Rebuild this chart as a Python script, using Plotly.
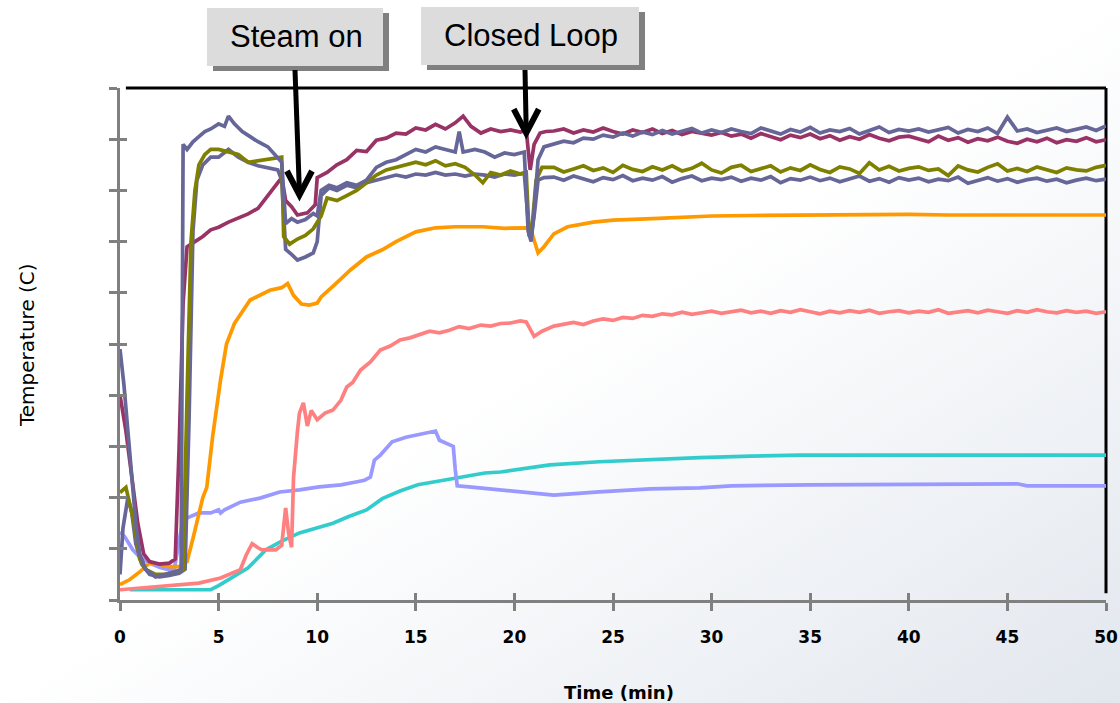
import base64
import plotly.graph_objects as go

# ---------------- data ----------------
TAIL_T = [22.0 + 0.5 * i for i in range(57)]  # 22.0 .. 50.0

maroon_t = [0, 0.3, 0.6, 0.9, 1.2, 1.5, 2.0, 2.5, 2.8, 3.0, 3.2, 3.4, 3.8, 4.2, 4.6, 5.0, 5.5, 6.0,
            6.5, 7.0, 7.5, 7.9, 8.2, 8.4, 8.7, 9.0, 9.5, 9.9, 10.0, 10.5, 11.0, 11.5, 12.0, 12.5, 13.0,
            13.5, 14.0, 14.5, 15.0, 15.5, 16.0, 16.5, 17.0, 17.4, 17.8, 18.3, 18.8, 19.3, 19.8, 20.3,
            20.6, 20.8, 21.0, 21.3, 21.6]
maroon_v = [40, 33, 24, 15, 9, 7.5, 7, 7.2, 8, 30, 58, 69, 70, 71, 72.3, 72.8, 73.8, 74.6,
            75.4, 76.5, 79, 80.8, 82.5, 78, 76.8, 75.2, 75.6, 77.2, 82.5, 83.5, 85, 86.0, 87.8, 87.6, 89.8,
            90.2, 91.2, 91.0, 92.2, 91.8, 92.9, 92.0, 93.2, 94.5, 92.5, 91.2, 92, 91.5, 91.8, 91.4,
            91.8, 84, 89, 91.2, 91.5]
maroon_tail = [91.6, 92.0, 91.2, 91.8, 91.4, 92.2, 91.5, 91.0, 91.8, 91.3, 92.0, 91.1, 91.7, 90.9, 91.5, 91.2, 90.8,
               91.3, 90.6, 91.0, 90.2, 91.1, 90.5, 89.9, 90.8, 90.3, 91.0, 90.1, 90.7, 89.8, 90.5, 90.0, 90.9, 90.2, 89.7, 90.4, 90.6,
               90.0, 89.5, 90.6, 89.8, 90.3, 89.4, 90.1, 89.7, 90.4, 89.6, 89.2, 90.0, 89.5, 90.2, 89.3, 89.9, 89.6, 90.3, 89.5, 89.9]

slate_hi_t = [0, 0.2, 0.4, 0.6, 0.8, 1.0, 1.3, 1.8, 2.3, 2.8, 3.1, 3.15, 3.2, 3.4, 3.7, 4.0, 4.3, 4.6,
              5.0, 5.3, 5.5, 5.8, 6.2, 6.6, 7.0, 7.5, 8.0, 8.2, 8.4, 8.7, 9.0, 9.4, 9.8, 10.0, 10.2, 10.6,
              11.0, 11.5, 12.0, 12.5, 13.0, 13.5, 14.0, 14.5, 15.0, 15.5, 16.0, 16.5, 17.0, 17.2, 17.4, 18.0,
              18.5, 19.0, 19.5, 20.0, 20.5, 20.7, 20.85, 21.0, 21.2, 21.5]
slate_hi_v = [49, 42, 33, 24, 15, 9, 6, 4.5, 5, 5.5, 6, 60, 89, 88, 89.5, 90.5, 91.5, 92,
              93, 92.5, 94.5, 93, 91.5, 90.5, 89.5, 88.5, 86.5, 85.5, 73.5, 74.5, 73.8, 74.3, 75.5, 75, 80, 81,
              80.5, 81.5, 81, 82, 84.5, 85.5, 86, 87, 88, 87.5, 88.5, 88, 87.5, 91.5, 87.5, 88,
              87.5, 86.5, 87.3, 87, 87.5, 72, 70, 76, 86, 88.5]
slate_hi_tail = [89.0, 89.6, 89.3, 90.2, 90.0, 90.8, 90.4, 91.2, 90.6, 91.4, 90.9, 91.7, 91.0, 91.5, 92.1, 91.2, 91.8,
                 91.3, 92.0, 91.5, 91.1, 92.2, 91.6, 91.0, 91.9, 91.4, 92.3, 91.2, 91.8, 91.5, 92.1, 91.0, 91.7, 92.4, 91.3, 91.9, 91.6,
                 92.0, 91.4, 91.8, 92.3, 91.2, 91.9, 91.5, 92.2, 91.1, 94.3, 91.6, 92.0, 91.3, 91.8, 92.2, 91.5, 91.9, 92.4, 91.7, 92.6]

slate_lo_t = [0, 0.15, 0.4, 0.6, 0.8, 1.1, 1.5, 2.0, 2.5, 3.0, 3.3, 3.5, 3.7, 3.9, 4.2, 4.6, 5.0, 5.5,
              6.0, 6.5, 7.0, 7.5, 8.0, 8.2, 8.4, 8.7, 9.0, 9.4, 9.8, 10.0, 10.2, 10.6, 11.0, 11.5, 12.0, 12.5,
              13.0, 13.5, 14.0, 14.5, 15.0, 15.5, 16.0, 16.5, 17.0, 17.5, 18.0, 18.5, 19.0, 19.5, 20.0, 20.5,
              20.7, 20.85, 21.0, 21.2, 21.5]
slate_lo_v = [5, 14, 20, 17, 11, 7, 5, 4.5, 4.8, 5.2, 6, 35, 72, 82, 85, 86.5, 86.5, 88,
              86.5, 85.5, 84.8, 84.4, 84, 82, 68.5, 67.5, 66.4, 67, 67.8, 70, 79, 80.5, 80, 81, 80.5, 81.5,
              82, 82.5, 83, 82.6, 83.2, 83, 83.5, 83, 83.2, 82.8, 83.2, 83, 82.6, 83.2, 83, 83.4,
              74, 71, 75, 82, 82.5]
slate_lo_tail = [82.6, 82.0, 82.8, 82.3, 81.7, 82.5, 82.1, 82.9, 81.9, 82.4, 82.0, 82.7, 81.6, 82.3, 82.8, 81.9, 82.4,
                 82.1, 82.6, 81.8, 82.4, 82.0, 82.7, 81.5, 82.3, 82.0, 82.6, 81.9, 82.4, 81.7, 82.2, 82.8, 81.8, 82.3, 81.6, 82.5, 82.0,
                 82.4, 81.7, 82.2, 81.9, 82.6, 81.4, 82.0, 82.5, 81.8, 82.3, 81.6, 82.1, 82.4, 81.8, 82.2, 81.5, 82.0, 82.4, 81.9, 82.2]

olive_t = [0, 0.3, 0.6, 0.8, 1.0, 1.3, 1.8, 2.3, 2.8, 3.2, 3.4, 3.6, 3.8, 4.0, 4.3, 4.6, 5.0, 5.5,
           6.0, 6.5, 7.0, 7.5, 8.0, 8.2, 8.3, 8.6, 9.0, 9.4, 9.8, 10.2, 10.5, 11.0, 11.5, 12.0, 12.5, 13.0,
           13.5, 14.0, 14.5, 15.0, 15.5, 16.0, 16.5, 17.0, 17.5, 18.0, 18.4, 18.8, 19.3, 19.8, 20.3, 20.6,
           20.75, 20.9, 21.1, 21.4]
olive_v = [21, 22, 17, 13, 8, 6, 5, 5, 5.5, 6, 40, 70, 80, 85, 87, 88, 88, 87.5,
           87, 85.5, 85.8, 86.2, 86.5, 86.5, 71, 69.5, 70.5, 71.2, 72.5, 75, 78.5, 78, 79, 80, 81.5, 83,
           84, 84.5, 85, 85.5, 85, 85.8, 84.8, 85.2, 84.5, 83, 81.5, 83.5, 83, 83.8, 83.2, 83.5,
           71, 73, 82, 84.5]
olive_tail = [84.5, 83.6, 84.2, 84.8, 83.9, 84.4, 83.5, 84.9, 84.1, 83.7, 84.6, 84.0, 84.8, 83.8, 84.3, 85.3, 84.0,
              83.4, 84.5, 84.9, 83.7, 84.2, 84.8, 83.6, 84.4, 83.9, 85.0, 84.1, 83.5, 84.6, 84.2, 83.3, 85.4, 84.0, 84.7, 83.8, 84.3,
              84.6, 83.9, 84.2, 82.9, 84.8, 84.0, 83.6, 84.5, 85.2, 83.8, 84.3, 83.7, 84.6, 84.1, 83.5, 84.4, 84.0, 83.8, 84.5, 84.9]

orange_t = [0, 0.5, 1.0, 1.5, 2.0, 2.5, 3.0, 3.4, 3.7, 3.9, 4.2, 4.4, 4.7, 5.1, 5.4, 5.8, 6.6, 7.6,
            8.2, 8.5, 8.8, 9.2, 9.6, 10.0, 10.2, 11.0, 11.7, 12.5, 13.3, 14.0, 15.0, 16.0, 17.0, 18.4,
            19.5, 20.6, 20.9, 21.2, 21.5, 22.0, 22.7, 24.0, 25.0, 27.0, 30.0, 32.0, 35.0, 37.0, 40.0,
            42.0, 45.0, 47.0, 50.0]
orange_v = [3, 4, 5.5, 7.2, 7, 6.5, 6.5, 7.5, 12, 15.5, 20, 22, 32, 43, 50, 54, 58.6, 60.5,
            61, 61.8, 59.5, 57.8, 57.6, 58, 59.2, 62, 64.5, 67, 68.4, 70, 71.9, 72.7, 72.9, 72.9,
            72.6, 72.7, 71.5, 67.8, 69, 71.5, 72.9, 73.8, 74.2, 74.5, 75, 75.1, 75.2, 75.1, 75.3,
            75.2, 75.3, 75.2, 75.2]

salmon_t = [0, 1.0, 2.4, 4.0, 5.1, 6.1, 6.4, 6.7, 7.0, 7.2, 7.9, 8.2, 8.4, 8.55, 8.7, 8.8, 9.0, 9.1,
            9.3, 9.5, 9.7, 10.0, 10.4, 10.8, 11.2, 11.5, 11.8, 12.2, 12.7, 13.2, 13.7, 14.2, 14.7, 15.2,
            15.7, 16.2, 16.7, 17.2, 17.7, 18.3, 18.8, 19.3, 19.8, 20.3, 20.6, 21.0, 21.4]
salmon_v = [2, 2.3, 2.7, 3.3, 4.3, 5.9, 8.8, 11, 10.2, 9.8, 9.8, 10.7, 18, 13, 10.3, 24, 33, 36.5,
            38.5, 34, 37, 35.2, 36.5, 37.1, 39, 41.6, 42.5, 44.9, 46.5, 48.8, 49.6, 50.8, 51.2, 51.8,
            52.5, 52.2, 52.7, 53.4, 53.0, 53.7, 53.5, 54.0, 54.1, 54.5, 54.3, 51.5, 52.5]
salmon_tail = [53.5, 53.9, 54.2, 53.8, 54.5, 54.9, 54.6, 55.2, 55.0, 55.6, 55.4, 55.9, 55.7, 56.2, 55.8, 56.1, 56.4,
               56.0, 56.3, 56.6, 56.1, 56.4, 56.0, 56.5, 56.2, 56.7, 56.3, 55.9, 56.4, 56.1, 56.5, 56.2, 56.6, 56.0, 56.3, 56.5, 56.1,
               56.4, 56.2, 56.7, 56.0, 56.3, 56.5, 56.1, 56.6, 56.3, 56.0, 56.5, 56.2, 56.7, 56.3, 56.1, 56.5, 56.2, 56.4, 56.0, 56.3]

turq_t = [0.5, 4.6, 5.0, 5.7, 6.5, 7.4, 8.2, 9.1, 10.0, 10.8, 11.6, 12.5, 13.3, 14.2, 15.1, 15.9,
          16.8, 17.6, 18.5, 19.3, 20.3, 21.8, 24.3, 26.5, 29.4, 32.0, 34.5, 40.0, 50.0]
turq_v = [2.0, 2.0, 2.8, 4.5, 6.3, 9.8, 11.5, 13.1, 14.2, 15.0, 16.3, 17.6, 19.8, 21.3, 22.5, 23.0,
          23.6, 24.2, 24.8, 25.0, 25.6, 26.4, 27.0, 27.4, 27.8, 28.1, 28.3, 28.3, 28.3]

peri_t = [0, 0.25, 0.65, 1.0, 1.5, 2.0, 2.5, 2.75, 3.0, 3.2, 3.5, 4.0, 4.6, 5.0, 5.1, 5.3, 6.1, 7.1,
          8.1, 9.1, 10.1, 11.2, 11.9, 12.4, 12.7, 12.9, 13.2, 13.8, 14.5, 15.2, 15.6, 16.0, 16.2, 16.7,
          16.9, 17.0, 17.1, 17.7, 19.3, 20.8, 22.0, 24.3, 26.9, 29.4, 31.0, 35.0, 42.0, 45.5, 46.0, 50.0]
peri_v = [13.3, 12.3, 9.8, 8.4, 7.2, 6.4, 5.9, 5.9, 11.7, 15.6, 16.2, 17.0, 17.0, 17.6, 17.0, 17.6, 19.1, 19.9,
          21.1, 21.5, 22.1, 22.5, 23.0, 23.4, 24.0, 27.3, 28.3, 30.9, 31.8, 32.4, 32.8, 33.0, 31.2, 30.3,
          30.0, 25.5, 22.3, 22.1, 21.5, 20.9, 20.5, 21.1, 21.7, 21.9, 22.3, 22.5, 22.7, 22.7, 22.3, 22.3]

X_TICKS = [0, 5, 10, 15, 20, 25, 30, 35, 40, 45, 50]
Y_TICKS = [0, 10, 20, 30, 40, 50, 60, 70, 80, 90, 100]

series = [
    ("Sensor 7", turq_t, turq_v, "#33CCCC"),
    ("Sensor 8", peri_t, peri_v, "#9999FF"),
    ("Sensor 6", salmon_t + TAIL_T, salmon_v + salmon_tail, "#FF8080"),
    ("Sensor 5", orange_t, orange_v, "#FF9900"),
    ("Sensor 1", maroon_t + TAIL_T, maroon_v + maroon_tail, "#993366"),
    ("Sensor 4", slate_lo_t + TAIL_T, slate_lo_v + slate_lo_tail, "#666699"),
    ("Sensor 3", olive_t + TAIL_T, olive_v + olive_tail, "#808000"),
    ("Sensor 2", slate_hi_t + TAIL_T, slate_hi_v + slate_hi_tail, "#666699"),
]

fig = go.Figure()
for name, t, v, col in series:
    n = min(len(t), len(v))
    fig.add_trace(go.Scatter(x=t[:n], y=v[:n], mode="lines", name=name,
                             line=dict(color=col, width=3.7), showlegend=False))

# dummy trace for the overlay axes (inner half of the crossing ticks)
fig.add_trace(go.Scatter(x=[None], y=[None], xaxis="x2", yaxis="y2", showlegend=False))

GRAY = "#808080"
W, H = 1120, 703
ML, MR, MT, MB = 120, 14, 88, 103
PW, PH = W - ML - MR, H - MT - MB

svg = ('<svg xmlns="http://www.w3.org/2000/svg" width="1120" height="703">'
       '<defs><linearGradient id="g" x1="0" y1="0" x2="1" y2="1">'
       '<stop offset="0" stop-color="#ffffff"/><stop offset="0.5" stop-color="#ffffff"/>'
       '<stop offset="1" stop-color="#e2e7ee"/></linearGradient></defs>'
       '<rect width="1120" height="703" fill="url(#g)"/></svg>')
bg_src = "data:image/svg+xml;base64," + base64.b64encode(svg.encode()).decode()


def px_x(px):
    return (px - ML) / PW


def px_y(py):
    return (H - MB - py) / PH


tickfont = dict(family="DejaVu Sans", size=17, color="black", weight="bold")

fig.update_layout(
    template="none",
    width=W, height=H,
    autosize=False,
    margin=dict(l=ML, r=MR, t=MT, b=MB, pad=0, autoexpand=False),
    paper_bgcolor="white",
    plot_bgcolor="rgba(0,0,0,0)",
    xaxis=dict(range=[0, 50], tickvals=X_TICKS, ticks="outside", ticklen=8, tickwidth=3,
               tickcolor=GRAY, showline=True, linecolor=GRAY, linewidth=3, showgrid=False,
               zeroline=False, tickfont=tickfont, ticklabelstandoff=12, automargin=False),
    yaxis=dict(range=[0, 100], tickvals=Y_TICKS, ticks="outside", ticklen=8, tickwidth=3,
               tickcolor=GRAY, showline=True, linecolor=GRAY, linewidth=3, showgrid=False,
               zeroline=False, showticklabels=False, automargin=False),
    xaxis2=dict(range=[0, 50], tickvals=X_TICKS, ticks="inside", ticklen=7, tickwidth=3,
                tickcolor=GRAY, showline=False, showgrid=False, zeroline=False,
                showticklabels=False, overlaying="x", anchor="y2", side="bottom", automargin=False),
    yaxis2=dict(range=[0, 100], tickvals=Y_TICKS, ticks="inside", ticklen=7, tickwidth=3,
                tickcolor=GRAY, showline=False, showgrid=False, zeroline=False,
                showticklabels=False, overlaying="y", anchor="x2", side="left", automargin=False),
    images=[dict(source=bg_src, xref="paper", yref="paper", x=px_x(0), y=px_y(0),
                 sizex=W / PW, sizey=H / PH, xanchor="left", yanchor="top",
                 sizing="stretch", layer="below")],
)

shapes = [
    # black top and right borders of the plot area
    dict(type="line", xref="paper", yref="paper", x0=0.006, x1=1.0, y0=1, y1=1,
         line=dict(color="black", width=3), layer="below"),
    dict(type="line", xref="paper", yref="paper", x0=1.0, x1=1.0, y0=0.013, y1=1,
         line=dict(color="black", width=3), layer="below"),
]

# callout boxes with shadows
boxes = [
    ("Steam on", 207, 383, 8, 66),
    ("Closed Loop", 421, 639, 7, 65),
]
for label, x0, x1, y0, y1 in boxes:
    shapes.append(dict(type="rect", xref="paper", yref="paper",
                       x0=px_x(x0 + 6), x1=px_x(x1 + 6), y0=px_y(y0 + 5), y1=px_y(y1 + 5),
                       fillcolor="#808080", line=dict(width=0)))
    shapes.append(dict(type="rect", xref="paper", yref="paper",
                       x0=px_x(x0), x1=px_x(x1), y0=px_y(y0), y1=px_y(y1),
                       fillcolor="#DCDCDC", line=dict(width=0)))
    fig.add_annotation(text=label, xref="paper", yref="paper",
                       x=px_x((x0 + x1) / 2 + 1), y=px_y((y0 + y1) / 2 - 1),
                       showarrow=False, xanchor="center", yanchor="middle",
                       font=dict(family="Liberation Sans, Arial", size=31, color="black"))

# arrows (tip positions given in data coordinates: time, value)
arrows = [
    (9.1, 79.1, 295),   # Steam on
    (20.6, 91.2, 525),  # Closed Loop
]
for t_tip, v_tip, px_start in arrows:
    xt, yt = t_tip / 50.0, v_tip / 100.0
    xs, ys = px_x(px_start), px_y(70)
    shapes.append(dict(type="line", xref="paper", yref="paper", x0=xs, y0=ys, x1=xt, y1=yt + 0.004,
                       line=dict(color="black", width=5)))
    wx, wy = 12.5 / PW, 24 / PH
    path = f"M {xt - wx},{yt + wy} L {xt},{yt} L {xt + wx},{yt + wy}"
    shapes.append(dict(type="path", xref="paper", yref="paper", path=path,
                       line=dict(color="black", width=6)))

fig.update_layout(shapes=shapes)

# axis titles
fig.add_annotation(text="Time (min)", xref="paper", yref="paper", x=px_x(619), y=px_y(692),
                   showarrow=False, xanchor="center", yanchor="middle",
                   font=dict(family="DejaVu Sans", size=18, color="black", weight="bold"))
fig.add_annotation(text="Temperature (C)", xref="paper", yref="paper", x=px_x(27), y=px_y(345),
                   showarrow=False, xanchor="center", yanchor="middle", textangle=-90,
                   font=dict(family="DejaVu Sans", size=20, color="black"))

fig.write_html("out.html")
